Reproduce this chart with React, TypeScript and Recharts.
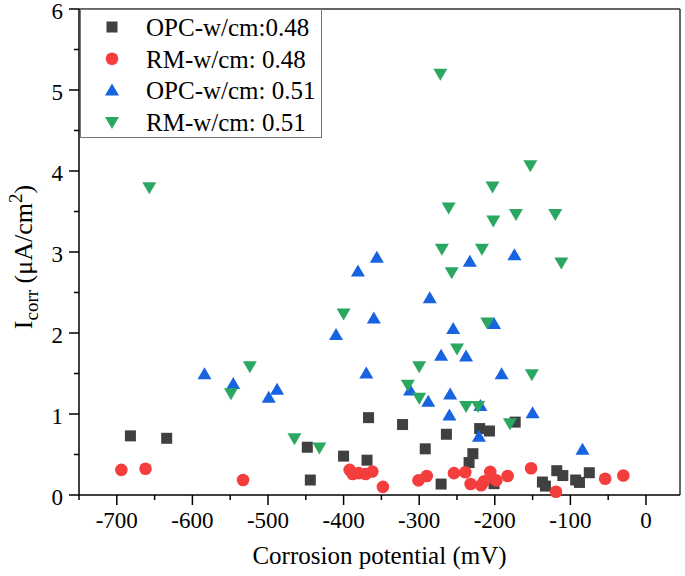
import React from "react";
import { ScatterChart, Scatter, XAxis, YAxis, ReferenceLine, Label } from "recharts";

// [corrosion potential (mV), Icorr (µA/cm2)]
const opc048: [number, number][] = [
  [-682, 0.73], [-634, 0.7], [-448, 0.59], [-444, 0.185], [-400, 0.48], [-369, 0.43],
  [-367, 0.955], [-322, 0.87], [-292, 0.57], [-271, 0.135], [-264, 0.75], [-234, 0.4],
  [-229, 0.51], [-220, 0.82], [-207, 0.79], [-201, 0.14], [-173, 0.9], [-137, 0.16],
  [-133, 0.11], [-118, 0.3], [-110, 0.24], [-93, 0.185], [-88, 0.155], [-75, 0.275],
];
const rm048: [number, number][] = [
  [-694, 0.31], [-662, 0.325], [-533, 0.185], [-392, 0.31], [-388, 0.26], [-380, 0.27],
  [-371, 0.26], [-362, 0.29], [-348, 0.1], [-301, 0.18], [-290, 0.235], [-254, 0.27],
  [-239, 0.28], [-232, 0.135], [-218, 0.12], [-214, 0.17], [-206, 0.285], [-198, 0.18],
  [-183, 0.235], [-152, 0.33], [-119, 0.04], [-54, 0.2], [-30, 0.24],
];
const opc051: [number, number][] = [
  [-584, 1.49], [-546, 1.37], [-499, 1.2], [-488, 1.3], [-410, 1.975], [-381, 2.76],
  [-370, 1.5], [-360, 2.18], [-356, 2.93], [-312, 1.29], [-288, 1.15], [-286, 2.43],
  [-271, 1.72], [-260, 0.98], [-259, 1.24], [-255, 2.05], [-238, 1.71], [-233, 2.88],
  [-221, 0.72], [-219, 1.1], [-201, 2.11], [-191, 1.49], [-174, 2.96], [-150, 1.01],
  [-84, 0.56],
];
const rm051: [number, number][] = [
  [-657, 3.8], [-549, 1.255], [-524, 1.59], [-465, 0.7], [-432, 0.585], [-400, 2.24],
  [-315, 1.36], [-300, 1.2], [-300, 1.59], [-272, 5.2], [-270, 3.04], [-261, 3.55],
  [-257, 2.75], [-250, 1.81], [-238, 1.1], [-222, 1.1], [-217, 3.04], [-210, 2.13],
  [-203, 3.81], [-202, 3.39], [-180, 0.885], [-172, 3.47], [-153, 4.07], [-151, 1.49],
  [-120, 3.47], [-112, 2.87],
];

const seriesNames = ["OPC-w/cm:0.48", "RM-w/cm: 0.48", "OPC-w/cm: 0.51", "RM-w/cm: 0.51"];
const xTicks = [-750, -700, -650, -600, -550, -500, -450, -400, -350, -300, -250, -200, -150, -100, -50, 0];
const yTicks = [0, 0.5, 1, 1.5, 2, 2.5, 3, 3.5, 4, 4.5, 5, 5.5, 6];

const FONT = "'Liberation Serif', 'Times New Roman', serif";
const colors = { square: "#404040", circle: "#f43d3d", up: "#1763e0", down: "#2aa862" };

const toPoints = (rows: [number, number][]) => rows.map(([x, y]) => ({ x, y }));

const Marker = ({ kind, cx, cy }: { kind: string; cx: number; cy: number }) => {
  if (kind === "square")
    return <rect x={cx - 5.5} y={cy - 5.5} width={11} height={11} fill={colors.square} />;
  if (kind === "circle") return <circle cx={cx} cy={cy} r={6.3} fill={colors.circle} />;
  if (kind === "up")
    return <polygon points={`${cx},${cy - 7} ${cx - 7},${cy + 5} ${cx + 7},${cy + 5}`} fill={colors.up} />;
  return <polygon points={`${cx - 7},${cy - 5} ${cx + 7},${cy - 5} ${cx},${cy + 7}`} fill={colors.down} />;
};

const shapeOf = (kind: string) => (props: any) => <Marker kind={kind} cx={props.cx} cy={props.cy} />;

const XTick = (props: any) => {
  const { x, y, payload } = props;
  const major = payload.value % 100 === 0;
  return (
    <g>
      <line x1={x} y1={y} x2={x} y2={y + (major ? 10 : 5)} stroke="#000" strokeWidth={1.5} />
      {major && (
        <text x={x} y={y + 33} textAnchor="middle" fontFamily={FONT} fontSize={23} fill="#000">
          {payload.value}
        </text>
      )}
    </g>
  );
};

const YTick = (props: any) => {
  const { x, y, payload } = props;
  const major = Number.isInteger(payload.value);
  return (
    <g>
      <line x1={x} y1={y} x2={x - (major ? 10 : 5)} y2={y} stroke="#000" strokeWidth={1.5} />
      {major && (
        <text x={x - 16} y={y + 10} textAnchor="end" fontFamily={FONT} fontSize={23} fill="#000">
          {payload.value}
        </text>
      )}
    </g>
  );
};

const XTitle = (props: any) => {
  const vb = props.viewBox || { x: 79, y: 495, width: 601 };
  return (
    <text x={vb.x + vb.width / 2} y={vb.y + 69} textAnchor="middle" fontFamily={FONT} fontSize={25} fill="#000">
      Corrosion potential (mV)
    </text>
  );
};

const YTitle = (props: any) => {
  const vb = props.viewBox || { x: 9, y: 9, height: 486 };
  const cx = vb.x + 23;
  const cy = vb.y + vb.height / 2 + 5;
  return (
    <text x={cx} y={cy} transform={`rotate(-90 ${cx} ${cy})`} textAnchor="middle" fontFamily={FONT} fontSize={26} fill="#000">
      I
      <tspan fontSize={19} dy={6}>corr</tspan>
      <tspan dy={-6}> (μA/cm</tspan>
      <tspan fontSize={19} dy={-10}>2</tspan>
      <tspan dy={10}>)</tspan>
    </text>
  );
};

const legendKinds = ["square", "circle", "up", "down"];

const LegendBox = () => (
  <svg width={242} height={129} style={{ position: "absolute", left: 80, top: 9 }}>
    <rect x={0.5} y={0.5} width={241} height={128} fill="#fff" stroke="#777" strokeWidth={1} />
    {seriesNames.map((name, i) => {
      const cy = 18 + i * 31.7;
      return (
        <g key={name}>
          <Marker kind={legendKinds[i]} cx={32} cy={cy} />
          <text x={66} y={cy + 9} fontFamily={FONT} fontSize={25} fill="#000">
            {name}
          </text>
        </g>
      );
    })}
  </svg>
);

export default function App() {
  return (
    <div style={{ position: "absolute", left: 0, top: 0, width: 685, height: 576, background: "#fff" }}>
      <ScatterChart width={685} height={576} margin={{ top: 9, right: 5, bottom: 21, left: 9 }}>
        <XAxis
          dataKey="x"
          type="number"
          domain={[-750, 45]}
          ticks={xTicks}
          interval={0}
          tickLine={false}
          tickSize={0}
          tickMargin={0}
          tick={(p: any) => <XTick {...p} />}
          axisLine={{ stroke: "#000", strokeWidth: 1.5 }}
          height={60}
        >
          <Label content={XTitle} />
        </XAxis>
        <YAxis
          dataKey="y"
          type="number"
          domain={[0, 6]}
          ticks={yTicks}
          interval={0}
          tickLine={false}
          tickSize={0}
          tickMargin={0}
          tick={(p: any) => <YTick {...p} />}
          axisLine={{ stroke: "#000", strokeWidth: 1.5 }}
          width={70}
        >
          <Label content={YTitle} />
        </YAxis>
        <ReferenceLine y={6} stroke="#333" strokeWidth={1.5} />
        <ReferenceLine x={45} stroke="#333" strokeWidth={1.5} />
        <Scatter name={seriesNames[0]} data={toPoints(opc048)} shape={shapeOf("square")} isAnimationActive={false} />
        <Scatter name={seriesNames[1]} data={toPoints(rm048)} shape={shapeOf("circle")} isAnimationActive={false} />
        <Scatter name={seriesNames[2]} data={toPoints(opc051)} shape={shapeOf("up")} isAnimationActive={false} />
        <Scatter name={seriesNames[3]} data={toPoints(rm051)} shape={shapeOf("down")} isAnimationActive={false} />
      </ScatterChart>
      <LegendBox />
    </div>
  );
}
